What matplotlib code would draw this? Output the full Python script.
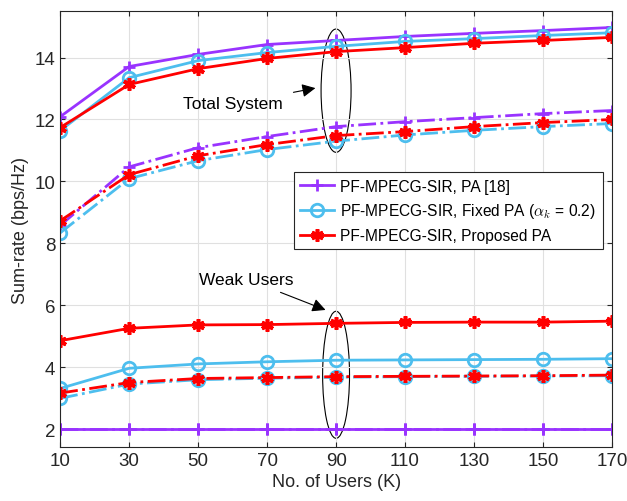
import numpy as np
import matplotlib.pyplot as plt
from matplotlib.patches import Ellipse

plt.rcParams['font.family'] = ['Liberation Sans', 'DejaVu Sans']
plt.rcParams['mathtext.fontset'] = 'cm'

users = [10, 30, 50, 70, 90, 110, 130, 150, 170]

# total system sum-rate
total_pa18 = [12.09, 13.71, 14.10, 14.42, 14.55, 14.68, 14.78, 14.87, 14.97]
total_fixed = [11.64, 13.35, 13.90, 14.16, 14.36, 14.52, 14.61, 14.71, 14.80]
total_prop = [11.74, 13.13, 13.64, 13.97, 14.19, 14.32, 14.46, 14.55, 14.65]

total_pa18_dd = [8.58, 10.47, 11.09, 11.45, 11.77, 11.93, 12.06, 12.19, 12.29]
total_fixed_dd = [8.34, 10.09, 10.67, 11.03, 11.30, 11.50, 11.65, 11.77, 11.87]
total_prop_dd = [8.73, 10.22, 10.83, 11.19, 11.48, 11.61, 11.77, 11.90, 12.00]

# weak users sum-rate
weak_pa18 = [2.0, 2.0, 2.0, 2.0, 2.0, 2.0, 2.0, 2.0, 2.0]
weak_fixed = [3.32, 3.97, 4.11, 4.18, 4.23, 4.24, 4.25, 4.26, 4.28]
weak_prop = [4.86, 5.26, 5.37, 5.38, 5.42, 5.45, 5.46, 5.46, 5.49]

weak_pa18_dd = [2.0, 2.0, 2.0, 2.0, 2.0, 2.0, 2.0, 2.0, 2.0]
weak_fixed_dd = [3.00, 3.46, 3.60, 3.65, 3.68, 3.70, 3.71, 3.72, 3.73]
weak_prop_dd = [3.17, 3.51, 3.64, 3.67, 3.70, 3.71, 3.72, 3.73, 3.75]

labels = ['PF-MPECG-SIR, PA [18]',
          r'PF-MPECG-SIR, Fixed PA ($\alpha_k$ = 0.2)',
          'PF-MPECG-SIR, Proposed PA']

c_pur = '#9933FF'
c_cya = '#4DBEEE'
c_red = '#FF0000'

fig, ax = plt.subplots(figsize=(6.27, 5.02), dpi=100)
fig.subplots_adjust(left=0.096, right=0.976, top=0.976, bottom=0.107)

lw = 2
star = (6, 2, 0)
sty = {
    'pa18': dict(color=c_pur, marker='+', ms=9, mew=2),
    'fixed': dict(color=c_cya, marker='o', ms=9, mew=2, mfc='none'),
    'prop': dict(color=c_red, marker=star, ms=9, mew=2.6),
}

ax.plot(users, total_pa18, '-', lw=lw, label=labels[0], **sty['pa18'])
ax.plot(users, total_fixed, '-', lw=lw, label=labels[1], **sty['fixed'])
ax.plot(users, total_prop, '-', lw=lw, label=labels[2], **sty['prop'])

ax.plot(users, total_pa18_dd, '-.', lw=lw, **sty['pa18'])
ax.plot(users, total_fixed_dd, '-.', lw=lw, **sty['fixed'])
ax.plot(users, total_prop_dd, '-.', lw=lw, **sty['prop'])

ax.plot(users, weak_pa18, '-', lw=lw, **sty['pa18'])
ax.plot(users, weak_fixed, '-', lw=lw, **sty['fixed'])
ax.plot(users, weak_prop, '-', lw=lw, **sty['prop'])

ax.plot(users, weak_pa18_dd, '-.', lw=lw, **sty['pa18'])
ax.plot(users, weak_fixed_dd, '-.', lw=lw, **sty['fixed'])
ax.plot(users, weak_prop_dd, '-.', lw=lw, **sty['prop'])

# group markers
ax.add_patch(Ellipse((90, 12.93), 8.7, 3.98, fill=False, ec='black', lw=0.8))
ax.add_patch(Ellipse((90, 3.76), 7.8, 4.1, fill=False, ec='black', lw=0.8))

arrow = dict(arrowstyle='-|>', color='black', lw=0.8, mutation_scale=20, shrinkA=6)
ax.annotate('Total System', xy=(84.8, 13.03), xytext=(60, 12.5),
            ha='center', va='center', fontsize=12.5, arrowprops=arrow)
ax.annotate('Weak Users', xy=(87.7, 5.82), xytext=(64, 6.85),
            ha='center', va='center', fontsize=12.5, arrowprops=arrow)

ax.set_xlim(10, 170)
ax.set_ylim(1.42, 15.5)
ax.set_xticks(users)
ax.set_yticks([2, 4, 6, 8, 10, 12, 14])
ax.tick_params(direction='in', top=True, right=True, labelsize=13.5, colors='#262626')
ax.grid(True, color='#E0E0E0', lw=0.8)
for s in ax.spines.values():
    s.set_color('#262626')
ax.set_xlabel('No. of Users (K)', fontsize=13, color='#262626', labelpad=3)
ax.set_ylabel('Sum-rate (bps/Hz)', fontsize=13, color='#262626', labelpad=4)

leg = ax.legend(loc='upper right', bbox_to_anchor=(0.983, 0.63), fontsize=11.2,
                fancybox=False, edgecolor='#262626', framealpha=1,
                handlelength=2.2, handletextpad=0.4, borderpad=0.4,
                labelspacing=0.5, borderaxespad=0)
leg.get_frame().set_linewidth(0.8)

plt.savefig('out.png', dpi=100)
